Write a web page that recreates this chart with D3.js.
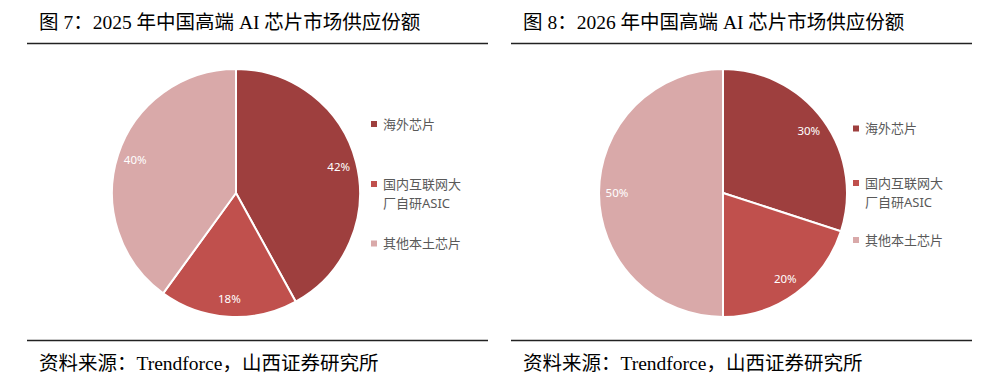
<!DOCTYPE html>
<html>
<head>
<meta charset="utf-8">
<script src="https://cdn.jsdelivr.net/npm/d3@7"></script>
<style>
  body { margin: 0; background: #fff; }
  svg { display: block; }
</style>
</head>
<body>
<svg id="chart" width="993" height="387"></svg>
<script>
// data
const categories = ["海外芯片", "国内互联网大厂自研ASIC", "其他本土芯片"];
const legendLines = [["海外芯片"], ["国内互联网大", "厂自研ASIC"], ["其他本土芯片"]];
const share2025 = [42, 18, 40];
const share2026 = [30, 20, 50];
const titles = ["图 7：2025 年中国高端 AI 芯片市场供应份额", "图 8：2026 年中国高端 AI 芯片市场供应份额"];
const sourceText = "资料来源：Trendforce，山西证券研究所";

let chart = d3.select("#chart");

let color = d3.scaleOrdinal()
    .domain(categories)
    .range(["#9e3f3e", "#c0504d", "#d9a9a9"]);

let serif = "'Liberation Serif', 'Times New Roman', 'Noto Sans CJK SC', serif";
let sans = "'Noto Sans', 'Noto Sans CJK SC', sans-serif";

function draw_panel(x0, cx, legendX, legendY, title, values) {
    let g = chart.append("g");

    //title + rules
    g.append("text")
        .attr("x", x0 + 12)
        .attr("y", 28.5)
        .attr("font-family", serif)
        .attr("font-size", "19.5px")
        .attr("fill", "#000")
        .text(title);

    g.append("line")
        .attr("x1", x0).attr("x2", x0 + 461)
        .attr("y1", 43.5).attr("y2", 43.5)
        .attr("stroke", "#222").attr("stroke-width", 1.3);

    g.append("line")
        .attr("x1", x0).attr("x2", x0 + 461)
        .attr("y1", 340.5).attr("y2", 340.5)
        .attr("stroke", "#222").attr("stroke-width", 1.3);

    g.append("text")
        .attr("x", x0 + 12)
        .attr("y", 369.5)
        .attr("font-family", serif)
        .attr("font-size", "19.5px")
        .attr("fill", "#000")
        .text(sourceText);

    //pie
    let r = 124;
    let pie = d3.pie().sort(null).value(function(d) { return d.v; });
    let arcs = pie(values.map(function(v, i) { return { k: categories[i], v: v }; }));
    let arc = d3.arc().innerRadius(0).outerRadius(r);
    let labelArc = d3.arc().innerRadius(r * 0.855).outerRadius(r * 0.855);

    let p = g.append("g").attr("transform", "translate(" + cx + "," + 193 + ")");

    p.selectAll("path")
        .data(arcs)
        .enter()
        .append("path")
            .attr("d", arc)
            .attr("fill", function(d) { return color(d.data.k); })
            .attr("stroke", "#fff")
            .attr("stroke-width", 2);

    p.selectAll("text")
        .data(arcs)
        .enter()
        .append("text")
            .attr("transform", function(d) { return "translate(" + labelArc.centroid(d) + ")"; })
            .attr("text-anchor", "middle")
            .attr("dy", "0.35em")
            .attr("font-family", sans)
            .attr("font-size", "11.5px")
            .attr("fill", "#fff")
            .text(function(d) { return d.data.v + "%"; });

    //legend
    let lg = g.append("g");
    categories.forEach(function(c, i) {
        let y = legendY[i];
        lg.append("rect")
            .attr("x", legendX - 3).attr("y", y - 3)
            .attr("width", 6).attr("height", 6)
            .attr("fill", color(c));
        legendLines[i].forEach(function(line, j) {
            lg.append("text")
                .attr("x", legendX + 9)
                .attr("y", y + j * 19.5)
                .attr("dy", "0.36em")
                .attr("font-family", sans)
                .attr("font-size", "13px")
                .attr("fill", "#595959")
                .text(line);
        });
    });
}

draw_panel(27, 236, 374, [124, 184, 243.5], titles[0], share2025);
draw_panel(511, 723, 856, [128.5, 183, 240], titles[1], share2026);
</script>
</body>
</html>
